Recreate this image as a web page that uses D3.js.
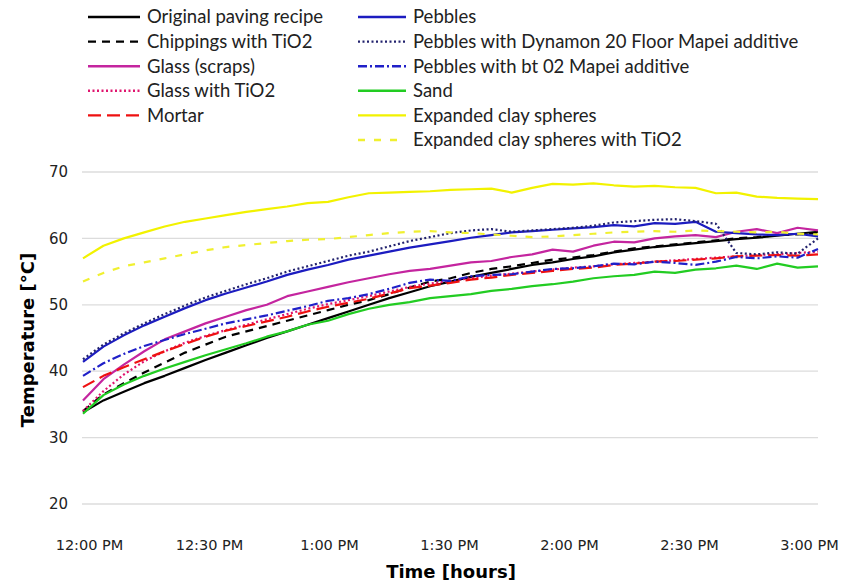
<!DOCTYPE html>
<html>
<head>
<meta charset="utf-8">
<script src="https://d3js.org/d3.v7.min.js"></script>
<style>
  body { margin: 0; background: #fff; }
</style>
</head>
<body>
<div class="canvas"></div>
<script>
// sampling times, minutes after 12:00 PM
const minutes = [0,5,10,15,20,25,30,35,40,45,50,55,60,65,70,75,80,85,90,95,100,105,110,115,120,125,130,135,140,145,150,155,160,165,170,175,180];

const original = [33.8,35.6,36.9,38.2,39.3,40.5,41.7,42.8,43.9,45.0,46.0,47.0,48.0,49.0,50.0,51.0,51.9,52.8,53.5,54.2,54.8,55.4,56.0,56.4,56.9,57.3,57.9,58.3,58.7,59.0,59.3,59.6,59.9,60.1,60.4,60.7,61.0];
const chippings = [34.0,36.5,38.2,39.8,41.3,42.8,44.0,45.2,46.0,46.8,47.6,48.4,49.2,50.0,50.7,51.6,52.6,53.5,54.0,54.8,55.4,55.8,56.3,56.8,57.1,57.5,58.0,58.5,58.8,59.1,59.4,59.7,60.0,60.2,60.5,60.6,60.8];
const glass = [35.6,38.8,41.0,43.0,44.8,46.0,47.2,48.2,49.2,50.0,51.3,52.0,52.7,53.4,54.0,54.6,55.1,55.4,55.9,56.4,56.6,57.2,57.6,58.3,58.0,58.9,59.5,59.4,60.0,60.3,60.5,60.2,61.0,61.4,60.8,61.6,61.2];
const glassTiO2 = [34.0,37.0,39.5,41.5,43.0,44.3,45.3,46.2,47.0,47.8,48.6,49.4,50.1,50.7,51.3,52.0,52.7,53.2,53.6,54.0,54.4,54.7,55.0,55.3,55.6,55.8,56.1,56.3,56.5,56.7,56.9,57.1,57.3,57.5,57.6,57.8,58.0];
const mortar = [37.6,39.3,40.6,41.8,43.0,44.1,45.2,46.1,46.8,47.5,48.2,49.0,49.7,50.3,50.9,51.7,52.5,52.9,53.3,53.8,54.1,54.5,54.8,55.1,55.4,55.6,56.0,56.2,56.5,56.6,56.8,57.0,57.3,57.4,57.5,57.4,57.6];
const pebbles = [41.4,43.7,45.4,46.9,48.2,49.5,50.7,51.7,52.6,53.5,54.5,55.3,56.0,56.8,57.4,58.0,58.6,59.1,59.6,60.1,60.5,60.9,61.1,61.3,61.5,61.7,62.0,61.8,62.3,62.2,62.5,61.0,60.8,60.6,60.5,60.7,60.3];
const pebblesDynamon = [41.8,44.0,45.7,47.2,48.6,49.9,51.1,52.1,53.1,54.0,55.0,55.8,56.6,57.4,58.0,58.8,59.6,60.2,60.8,61.2,61.4,61.0,61.2,61.4,61.6,61.9,62.4,62.6,62.8,62.9,62.6,62.2,57.8,57.6,57.9,57.7,60.0];
const pebblesBt02 = [39.3,41.2,42.6,43.8,44.7,45.6,46.4,47.2,47.8,48.4,49.1,49.8,50.6,51.0,51.6,52.4,53.3,53.8,53.6,54.3,54.5,54.6,55.0,55.4,55.5,55.8,56.2,56.1,56.5,56.3,56.0,56.5,57.2,57.0,57.3,57.1,58.4];
const sand = [33.6,36.4,38.0,39.3,40.4,41.4,42.4,43.3,44.2,45.2,46.0,47.0,47.6,48.6,49.4,50.0,50.4,51.0,51.3,51.6,52.1,52.4,52.8,53.1,53.5,54.0,54.3,54.5,55.0,54.8,55.3,55.5,55.9,55.4,56.2,55.6,55.8];
const clay = [57.0,58.9,60.0,60.9,61.8,62.5,63.0,63.5,64.0,64.4,64.8,65.3,65.5,66.2,66.8,66.9,67.0,67.1,67.3,67.4,67.5,66.9,67.6,68.2,68.1,68.3,68.0,67.8,67.9,67.7,67.6,66.8,66.9,66.3,66.1,66.0,65.9];
const clayTiO2 = [53.5,54.8,55.8,56.4,57.0,57.6,58.2,58.7,59.0,59.3,59.6,59.8,59.9,60.2,60.5,60.8,61.0,61.1,60.9,60.8,60.6,60.4,60.2,60.3,60.5,60.7,60.9,61.0,61.1,61.0,61.2,61.1,61.0,60.9,61.0,60.7,60.6];

const names = ["Original paving recipe","Chippings with TiO2","Glass (scraps)","Glass with TiO2","Mortar",
  "Pebbles","Pebbles with Dynamon 20 Floor Mapei additive","Pebbles with bt 02 Mapei additive","Sand",
  "Expanded clay spheres","Expanded clay spheres with TiO2"];
const yTicks = [20,30,40,50,60,70];

const series = [
  {name: names[0], values: original, color: "#000000", dash: null},
  {name: names[1], values: chippings, color: "#000000", dash: "8,6"},
  {name: names[2], values: glass, color: "#c4259f", dash: null},
  {name: names[3], values: glassTiO2, color: "#e0156e", dash: "2,2.5"},
  {name: names[4], values: mortar, color: "#ee1111", dash: "13,6"},
  {name: names[5], values: pebbles, color: "#1c1cc0", dash: null},
  {name: names[6], values: pebblesDynamon, color: "#22226e", dash: "2,2.5"},
  {name: names[7], values: pebblesBt02, color: "#2020c8", dash: "9,3,2,3"},
  {name: names[8], values: sand, color: "#22cc22", dash: null},
  {name: names[9], values: clay, color: "#f2f200", dash: null},
  {name: names[10], values: clayTiO2, color: "#f0f030", dash: "7,9"}
];

const width = 843, height = 583;
const svg = d3.select(".canvas").append("svg").attr("width", width).attr("height", height);

const t0 = new Date(2020, 0, 1, 12, 0);
const toTime = m => new Date(t0.getTime() + m * 60000);

const x = d3.scaleTime().domain([toTime(0), toTime(180)]).range([83, 818]);
// the category labels sit a bit inside the plot ends
const xLabels = d3.scaleTime().domain([toTime(0), toTime(180)]).range([89, 809]);
const y = d3.scaleLinear().domain([20, 70]).range([504, 172]);

// gridlines
svg.append("g").selectAll("line").data(yTicks).join("line")
  .attr("x1", 82).attr("x2", 818)
  .attr("y1", d => y(d)).attr("y2", d => y(d))
  .attr("stroke", "#dcdcdc").attr("stroke-width", 1.3);

// y labels
svg.append("g").selectAll("text").data(yTicks).join("text")
  .attr("x", 68).attr("y", d => y(d)).attr("dy", "0.35em")
  .attr("text-anchor", "end")
  .style("font-family", "DejaVu Sans").style("font-size", "15px").attr("fill", "#222")
  .text(d => d);

// x axis labels
const xAxis = d3.axisBottom(xLabels).ticks(d3.timeMinute.every(30)).tickFormat(d3.timeFormat("%-I:%M %p")).tickSize(0);
const gx = svg.append("g").attr("transform", "translate(0,537)").call(xAxis);
gx.select(".domain").remove();
gx.selectAll("text").style("font-family", "DejaVu Sans").style("font-size", "14.5px").attr("fill", "#222");

// titles
svg.append("text").attr("x", 451).attr("y", 578).attr("text-anchor", "middle")
  .style("font-family", "DejaVu Sans").style("font-weight", "bold").style("font-size", "18px")
  .text("Time [hours]");
svg.append("text").attr("transform", "translate(34,340) rotate(-90)").attr("text-anchor", "middle")
  .style("font-family", "DejaVu Sans").style("font-weight", "bold").style("font-size", "18px")
  .text("Temperature [°C]");

const line = d3.line().x((d, i) => x(toTime(minutes[i]))).y(d => y(d));

svg.append("g").selectAll("path").data(series).join("path")
  .attr("d", d => line(d.values))
  .attr("fill", "none")
  .attr("stroke", d => d.color)
  .attr("stroke-width", 2.2)
  .attr("stroke-dasharray", d => d.dash)
  .attr("stroke-linejoin", "round");

// legend, two columns
const legend = svg.append("g");
series.forEach(function(s, i) {
  const col = i < 5 ? 0 : 1;
  const row = col == 0 ? i : i - 5;
  const lx = col == 0 ? 88 : 358;
  const len = col == 0 ? 52 : 48;
  const ly = 17 + row * 24.6;
  legend.append("line").attr("x1", lx).attr("x2", lx + len).attr("y1", ly).attr("y2", ly)
    .attr("stroke", s.color).attr("stroke-width", 2.4).attr("stroke-dasharray", s.dash);
  legend.append("text").attr("x", lx + len + 7).attr("y", ly).attr("dy", "0.35em")
    .style("font-family", "Lato").style("font-size", "18.5px").attr("fill", "#222")
    .text(s.name);
});
</script>
</body>
</html>
